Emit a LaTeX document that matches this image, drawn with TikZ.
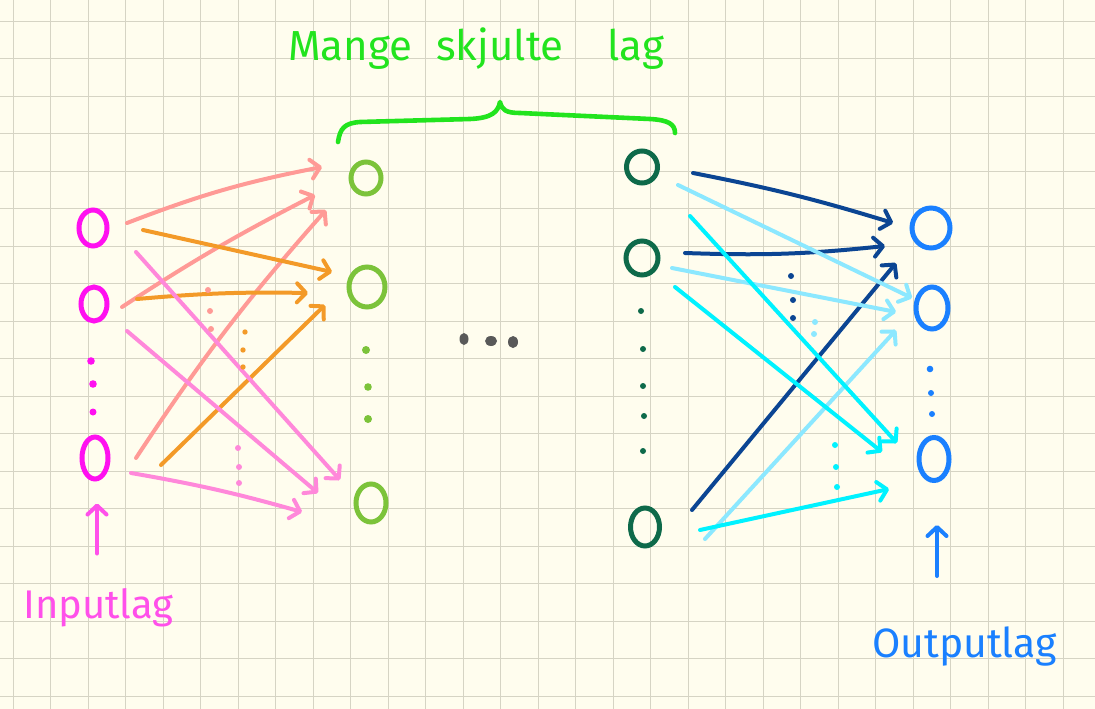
\documentclass[tikz,border=0pt]{standalone}
\usepackage{fontspec}
\setmainfont{Fira Sans}
\usetikzlibrary{shapes.geometric,arrows.meta,calc}
\definecolor{bgc}{HTML}{FFFDEE}
\definecolor{gridc}{HTML}{D6D4C4}
\definecolor{magc}{HTML}{FF10F0}
\definecolor{maglbl}{HTML}{FF50EA}
\definecolor{salmonc}{HTML}{FF9A96}
\definecolor{orangec}{HTML}{F39A28}
\definecolor{pinkc}{HTML}{FF88DA}
\definecolor{lgreenc}{HTML}{7CC33A}
\definecolor{titlec}{HTML}{22E41E}
\definecolor{grayc}{HTML}{595959}
\definecolor{dgreenc}{HTML}{0E6A4A}
\definecolor{dbluec}{HTML}{0B4593}
\definecolor{lbluec}{HTML}{8CE8FF}
\definecolor{cyanc}{HTML}{00F2FF}
\definecolor{outc}{HTML}{1A80FF}
\tikzset{
  neuron/.style 2 args={ellipse, draw, line width=5pt, minimum width=#1, minimum height=#2, inner sep=0pt},
  arr/.style={line width=4pt, line cap=round, line join=round, -{Straight Barb[length=9pt,width=19pt,line width=4pt,round]}},
  lbl/.style={inner sep=0pt, anchor=base west},
}
\begin{document}
\begin{tikzpicture}[x=1pt,y=-1pt]
\fill[bgc] (0,0) rectangle (1095,709);
\useasboundingbox (0,0) rectangle (1095,709);
% grid
\foreach \k in {0,...,28} \draw[gridc, line width=1.1pt] ({13.3+37.5*\k},0) -- ({13.3+37.5*\k},709);
\foreach \k in {0,...,18} \draw[gridc, line width=1.1pt] (0,{21.3+37.5*\k}) -- (1095,{21.3+37.5*\k});

% input layer
\node[neuron={28pt}{36pt}, magc] (i1) at (93,228) {};
\node[neuron={26pt}{34pt}, magc] (i2) at (94,304) {};
\node[neuron={26pt}{42pt}, magc] (i3) at (95,458) {};
\fill[magc] (91,361) circle[radius=3.8];
\fill[magc] (93,384) circle[radius=3.8];
\fill[magc] (93,412) circle[radius=3.5];

% first hidden layer
\node[neuron={30pt}{32pt}, lgreenc] (g1) at (366,178) {};
\node[neuron={36pt}{40pt}, lgreenc] (g2) at (367,287) {};
\node[neuron={30pt}{38pt}, lgreenc] (g3) at (371,503) {};
\fill[lgreenc] (366,350) circle[radius=4];
\fill[lgreenc] (368,387) circle[radius=3.8];
\fill[lgreenc] (368,419) circle[radius=4];

% ellipsis between layers
\fill[grayc] (464,339) ellipse[x radius=4.5, y radius=6];
\fill[grayc] (491,341) ellipse[x radius=6, y radius=5];
\fill[grayc] (513,342) ellipse[x radius=5, y radius=6];

% last hidden layer
\node[neuron={31pt}{32pt}, dgreenc] (d1) at (642,167) {};
\node[neuron={32pt}{34pt}, dgreenc] (d2) at (642,258) {};
\node[neuron={29pt}{38pt}, dgreenc] (d3) at (645,527) {};
\foreach \p in {(641,311),(643,349),(643,386),(644,416),(643,451)} \fill[dgreenc] \p circle[radius=3];

% output layer
\node[neuron={38pt}{40pt}, outc] (o1) at (931,228) {};
\node[neuron={32pt}{42pt}, outc] (o2) at (932,308) {};
\node[neuron={30pt}{43pt}, outc] (o3) at (934,459) {};
\fill[outc] (930,369) circle[radius=3.3];
\fill[outc] (931,393) circle[radius=3];
\fill[outc] (932,414) circle[radius=3];

% left connections
\draw[arr, salmonc] ([shift={(34,-5)}]i1.center) to[bend left=5] ([shift={(-44,-11)}]g1.center);
\draw[arr, salmonc] ([shift={(28,3)}]i2.center) to[bend left=3] ([shift={(-51,17)}]g1.center);
\draw[arr, salmonc] ([shift={(41,0)}]i3.center) to[bend left=4] ([shift={(-40,32)}]g1.center);
\draw[arr, orangec] ([shift={(50,2)}]i1.center) -- ([shift={(-35,-15)}]g2.center);
\draw[arr, orangec] ([shift={(43,-5)}]i2.center) to[bend left=3] ([shift={(-59,6)}]g2.center);
\draw[arr, orangec] ([shift={(66,7)}]i3.center) -- ([shift={(-42,18)}]g2.center);
\draw[arr, pinkc] ([shift={(43,24)}]i1.center) -- ([shift={(-31,-23)}]g3.center);
\draw[arr, pinkc] ([shift={(33,27)}]i2.center) -- ([shift={(-53,-10)}]g3.center);
\draw[arr, pinkc] ([shift={(36,15)}]i3.center) to[bend left=3] ([shift={(-69,9)}]g3.center);
% left dots
\foreach \p in {(208,290),(210,311),(211,329)} \fill[salmonc] \p circle[radius=3];
\foreach \p in {(245,332),(243,350),(243,367)} \fill[orangec] \p circle[radius=2.7];
\foreach \p in {(238,448),(239,467),(239,483)} \fill[pinkc] \p circle[radius=3];

% right connections
\draw[arr, dbluec] ([shift={(51,6)}]d1.center) to[bend left=3] ([shift={(-38,-5)}]o1.center);
\draw[arr, dbluec] ([shift={(43,-5)}]d2.center) to[bend right=4] ([shift={(-46,18)}]o1.center);
\draw[arr, dbluec] ([shift={(47,-17)}]d3.center) -- ([shift={(-35,35)}]o1.center);
\draw[arr, lbluec] ([shift={(36,18)}]d1.center) -- ([shift={(-20,-10)}]o2.center);
\draw[arr, lbluec] ([shift={(30,10)}]d2.center) -- ([shift={(-36,4)}]o2.center);
\draw[arr, lbluec] ([shift={(60,12)}]d3.center) -- ([shift={(-36,22)}]o2.center);
\draw[arr, cyanc] ([shift={(48,49)}]d1.center) -- ([shift={(-37,-16)}]o3.center);
\draw[arr, cyanc] ([shift={(33,29)}]d2.center) -- ([shift={(-52,-7)}]o3.center);
\draw[arr, cyanc] ([shift={(55,3)}]d3.center) -- ([shift={(-45,30)}]o3.center);
% right dots
\foreach \p in {(791,276),(793,300),(793,318)} \fill[dbluec] \p circle[radius=3];
\foreach \p in {(815,322),(814,334)} \fill[lbluec] \p circle[radius=3];
\foreach \p in {(835,445),(836,467),(837,487)} \fill[cyanc] \p circle[radius=3];

% title and brace
\node[lbl, titlec, font=\fontsize{42}{44}\selectfont] (title) at (288,60) {Mange\hspace{24pt}skjulte\hspace{44pt}lag};
\draw[titlec, line width=4.6pt, line cap=round, line join=round]
  (338,142) .. controls (340,128) and (345,123) .. (360,122)
  -- (470,119) .. controls (492,118) and (498,112) .. (500,102)
  .. controls (502,110) and (506,113) .. (520,113)
  -- (650,119) .. controls (668,120) and (675,124) .. (675,133);

% labels
\node[lbl, maglbl, font=\fontsize{40}{42}\selectfont] (inlbl) at (23,618) {Inputlag};
\node[lbl, outc, font=\fontsize{41}{43}\selectfont] (outlbl) at (872,657) {Outputlag};
\draw[arr, maglbl] ([shift={(2,72)}]i3.south) -- ([shift={(2,22)}]i3.south);
\draw[arr, outc] ([shift={(3,93)}]o3.south) -- ([shift={(3,42)}]o3.south);
\end{tikzpicture}
\end{document}
